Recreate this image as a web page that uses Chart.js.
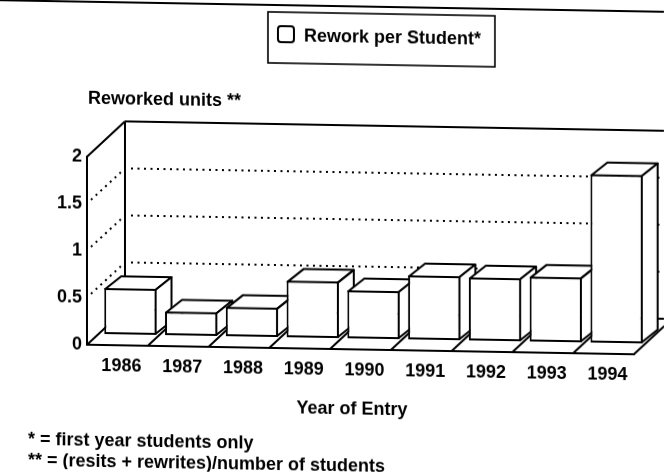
<!DOCTYPE html>
<html>
<head>
<meta charset="utf-8">
<script src="https://cdn.jsdelivr.net/npm/chart.js@4"></script>
<style>
  html, body { margin: 0; padding: 0; background: #fff; }
  #wrap { width: 664px; height: 474px; overflow: hidden; background: #fff; }
  /* the printed sheet sits slightly askew */
  #c { display: block; transform: skewY(1deg); transform-origin: 332px 237px; }
</style>
</head>
<body>
<div id="wrap"><canvas id="c" width="664" height="474"></canvas></div>
<script>
// ---- data ----
const years = ['1986', '1987', '1988', '1989', '1990', '1991', '1992', '1993', '1994'];
const reworkPerStudent = [0.49, 0.25, 0.31, 0.60, 0.51, 0.68, 0.67, 0.69, 1.79];
const yTickValues = [0, 0.5, 1, 1.5, 2];

// ---- texts ----
const seriesLabel = 'Rework per Student*';
const yAxisTitle = 'Reworked units **';
const xAxisTitle = 'Year of Entry';
const footnotes = ['* = first year students only', '** = (resits + rewrites)/number of students'];

// ---- 3-D box geometry ----
const FONT = '"Liberation Sans", Arial, Helvetica, sans-serif';
const WALL = { dx: 38, dy: -36 };       // back wall offset from the front plane
const BAR_SHIFT = { dx: 13, dy: -11 };  // bars stand a little behind the front edge
const BAR_DEPTH = { dx: 16, dy: -13 };  // thickness of each bar

function seg(ctx, x1, y1, x2, y2) {
  ctx.beginPath();
  ctx.moveTo(x1, y1);
  ctx.lineTo(x2, y2);
  ctx.stroke();
}

function poly(ctx, pts) {
  ctx.beginPath();
  ctx.moveTo(pts[0][0], pts[0][1]);
  for (let i = 1; i < pts.length; i++) ctx.lineTo(pts[i][0], pts[i][1]);
  ctx.closePath();
  ctx.fill();
  ctx.stroke();
}

const box3d = {
  id: 'box3d',
  beforeDatasetsDraw(chart) {
    const { ctx, chartArea: a, scales: { x, y } } = chart;
    const n = years.length;
    const catW = (a.right - a.left) / n;

    ctx.save();
    ctx.strokeStyle = '#000';
    ctx.fillStyle = '#fff';

    // dotted reference lines on side wall and back wall
    ctx.lineWidth = 2;
    ctx.setLineDash([2, 4.5]);
    yTickValues.filter(v => v > y.min && v < y.max).forEach(v => {
      const py = y.getPixelForValue(v);
      seg(ctx, a.left + 4, py - 4, a.left + WALL.dx - 2, py + WALL.dy + 2);
      seg(ctx, a.left + WALL.dx + 6, py + WALL.dy, a.right + WALL.dx, py + WALL.dy);
    });
    ctx.setLineDash([]);

    // solid wall edges
    ctx.lineWidth = 2;
    const top = y.getPixelForValue(y.max);
    const bottom = y.getPixelForValue(y.min);
    seg(ctx, a.left, top, a.left + WALL.dx, top + WALL.dy);
    seg(ctx, a.left + WALL.dx, top + WALL.dy, a.right + WALL.dx + 10, top + WALL.dy);
    seg(ctx, a.left + WALL.dx, top + WALL.dy, a.left + WALL.dx, bottom + WALL.dy);

    // floor: back edge and category dividers
    seg(ctx, a.left + WALL.dx, bottom + WALL.dy, a.right + WALL.dx + 10, bottom + WALL.dy);
    for (let k = 0; k <= n; k++) {
      const fx = a.left + k * catW;
      seg(ctx, fx, bottom, fx + WALL.dx, bottom + WALL.dy);
    }

    // top and side faces of the bars
    ctx.lineJoin = 'round';
    const meta = chart.getDatasetMeta(0);
    meta.data.forEach(bar => {
      const p = bar.getProps(['x', 'y', 'base', 'width'], true);
      const l = p.x - p.width / 2 + BAR_SHIFT.dx + 1;
      const r = p.x + p.width / 2 + BAR_SHIFT.dx - 1;
      const t = p.y + BAR_SHIFT.dy + 1;
      const b = p.base + BAR_SHIFT.dy - 1;
      const dx = BAR_DEPTH.dx, dy = BAR_DEPTH.dy;
      poly(ctx, [[l, t], [r, t], [r + dx, t + dy], [l + dx, t + dy]]);
      poly(ctx, [[r, t], [r + dx, t + dy], [r + dx, b + dy], [r, b]]);
    });
    ctx.restore();

    // front faces are drawn by Chart.js in the shifted plane
    ctx.save();
    ctx.translate(BAR_SHIFT.dx, BAR_SHIFT.dy);
  },
  afterDatasetsDraw(chart) {
    chart.ctx.restore();
  },
  afterDraw(chart) {
    const { ctx } = chart;
    ctx.save();
    ctx.strokeStyle = '#000';
    ctx.fillStyle = '#000';

    // rule under the page heading
    ctx.lineWidth = 2;
    seg(ctx, 0, 6, 664, 6);

    // legend
    ctx.lineWidth = 1.6;
    ctx.strokeRect(268, 13, 227, 51);
    ctx.lineWidth = 2;
    ctx.beginPath();
    ctx.roundRect(278, 27, 16, 16, 3);
    ctx.stroke();
    ctx.font = 'bold 18px ' + FONT;
    ctx.textBaseline = 'middle';
    ctx.textAlign = 'left';
    ctx.fillText(chart.data.datasets[0].label, 304, 37);

    // axis titles
    ctx.fillText(yAxisTitle, 88, 103);
    ctx.textAlign = 'center';
    ctx.fillText(xAxisTitle, 352, 409);

    // footnotes
    ctx.textAlign = 'left';
    ctx.fillText(footnotes[0], 28, 445);
    ctx.fillText(footnotes[1], 28, 466);
    ctx.restore();
  }
};

const tickFont = { family: FONT, size: 18, weight: 'bold' };

new Chart(document.getElementById('c'), {
  type: 'bar',
  data: {
    labels: years,
    datasets: [{
      label: seriesLabel,
      data: reworkPerStudent,
      backgroundColor: '#fff',
      borderColor: '#000',
      borderWidth: 2,
      borderSkipped: false,
      categoryPercentage: 1,
      barPercentage: 0.86,
      clip: false
    }]
  },
  options: {
    responsive: false,
    animation: false,
    devicePixelRatio: 1,
    layout: { padding: { left: 47, right: 30, top: 161, bottom: 85 } },
    plugins: { legend: { display: false }, tooltip: { enabled: false }, title: { display: false } },
    scales: {
      x: {
        grid: { display: false, drawTicks: false },
        border: { display: true, color: '#000', width: 2 },
        ticks: { color: '#000', font: tickFont, padding: 10, labelOffset: 4, maxRotation: 0, autoSkip: false },
        afterFit(s) { s.height = 40; }
      },
      y: {
        min: 0,
        max: 2,
        grid: { display: false, drawTicks: false },
        border: { display: true, color: '#000', width: 2 },
        ticks: { color: '#000', font: tickFont, padding: 5, stepSize: 0.5, callback: v => String(v) },
        afterFit(s) { s.width = 40; }
      }
    }
  },
  plugins: [box3d]
});
</script>
</body>
</html>
